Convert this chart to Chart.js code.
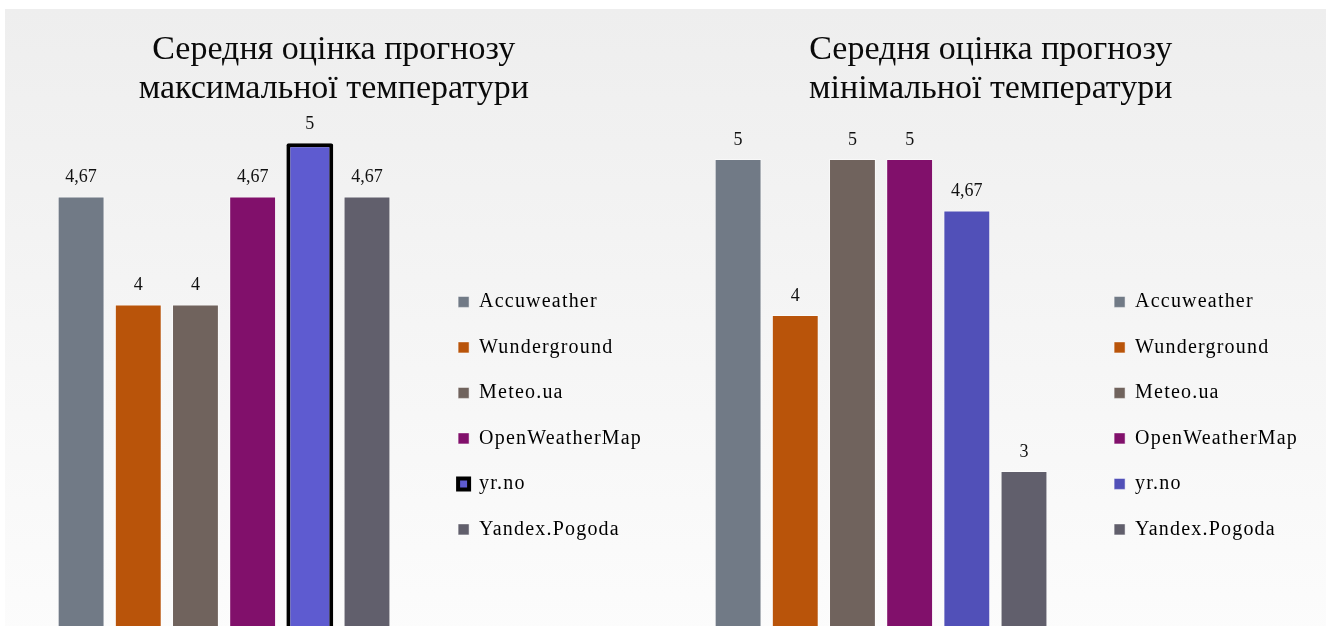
<!DOCTYPE html>
<html lang="uk">
<head>
<meta charset="utf-8">
<title>Середня оцінка прогнозу</title>
<script src="https://cdn.jsdelivr.net/npm/chart.js@4.4.1/dist/chart.umd.min.js"></script>
<style>
    html, body { margin: 0; padding: 0; background: #ffffff; overflow: hidden; }
    #panel {
        position: absolute; left: 5px; top: 9px; width: 1321px; height: 630px;
        background: linear-gradient(#eeeeee, #fcfcfc);
    }
    .box { position: absolute; top: 0; width: 658px; height: 627px; }
    #boxMax { left: 0; }
    #boxMin { left: 658px; }
</style>
</head>
<body>
<div id="panel"></div>
<div class="box" id="boxMax"><canvas id="chartMax"></canvas></div>
<div class="box" id="boxMin"><canvas id="chartMin"></canvas></div>

<script>
const providers = ["Accuweather", "Wunderground", "Meteo.ua", "OpenWeatherMap", "yr.no", "Yandex.Pogoda"];
const maxTempScores = [4.67, 4, 4, 4.67, 5, 4.67];
const minTempScores = [5, 4, 5, 5, 4.67, 3];
const titleMax = ["Середня оцінка прогнозу", "максимальної температури"];
const titleMin = ["Середня оцінка прогнозу", "мінімальної температури"];

const colorsMax = ["#717a86", "#b9540a", "#70635d", "#81106b", "#5e5bd0", "#615f6c"];
const colorsMin = ["#717a86", "#b9540a", "#70635d", "#81106b", "#5150b8", "#615f6c"];

const serif = "'Liberation Serif', 'Times New Roman', serif";

// numbers above the bars, with a decimal comma
const valueLabels = {
    id: "valueLabels",
    afterDatasetsDraw(chart) {
        const ctx = chart.ctx;
        ctx.save();
        ctx.font = "18px " + serif;
        ctx.fillStyle = "#111111";
        ctx.textAlign = "center";
        ctx.textBaseline = "alphabetic";
        chart.data.datasets.forEach((ds, i) => {
            const bar = chart.getDatasetMeta(i).data[0];
            ctx.fillText(String(ds.data[0]).replace(".", ","), bar.x, bar.y - 14);
        });
        ctx.restore();
    }
};

// the legend text in the original is a bit spaced out
const legendSpacing = {
    id: "legendSpacing",
    afterInit(chart) {
        const lg = chart.legend;
        ["fit", "draw"].forEach(fn => {
            const orig = lg[fn].bind(lg);
            lg[fn] = function (...args) {
                chart.ctx.save();
                chart.ctx.letterSpacing = "1.2px";
                const r = orig(...args);
                chart.ctx.restore();
                return r;
            };
        });
    }
};

function makeChart(id, title, scores, colors, yMax, padRight, catPct, highlight) {
    const datasets = providers.map((name, i) => ({
        label: name,
        data: [scores[i]],
        backgroundColor: colors[i],
        borderColor: i === highlight ? "#000000" : "rgba(255,255,255,0.5)",
        borderWidth: i === highlight ? 4 : 1,
        borderRadius: i === highlight ? 2 : 0,
        borderSkipped: i === highlight ? false : "start"
    }));

    return new Chart(document.getElementById(id), {
        type: "bar",
        data: { labels: [""], datasets: datasets },
        options: {
            responsive: true,
            maintainAspectRatio: false,
            animation: false,
            layout: { padding: { left: 15.5, right: padRight, top: 0, bottom: 0 } },
            datasets: { bar: { categoryPercentage: catPct, barPercentage: 0.82 } },
            scales: {
                x: { display: false },
                y: { display: false, min: 2, max: yMax }
            },
            plugins: {
                title: {
                    display: true,
                    text: title,
                    color: "#0a0a0a",
                    font: { family: serif, size: 34, weight: "normal", lineHeight: 1.147 },
                    padding: { top: 31, bottom: 4 }
                },
                legend: {
                    position: "right",
                    align: "start",
                    fullSize: false,
                    title: { display: true, text: "", font: { size: 10, lineHeight: 1 }, padding: { top: 143.4, bottom: 0 } },
                    labels: {
                        color: "#000000",
                        font: { family: serif, size: 20 },
                        boxWidth: 11,
                        boxHeight: 11,
                        padding: 25.5
                    }
                },
                tooltip: { enabled: false }
            }
        },
        plugins: [valueLabels, legendSpacing]
    });
}

makeChart("chartMax", titleMax, maxTempScores, colorsMax, 5.187, 6, 0.8225, 4);
makeChart("chartMin", titleMin, minTempScores, colorsMin, 5.295, 8, 0.8265, -1);
</script>
</body>
</html>
